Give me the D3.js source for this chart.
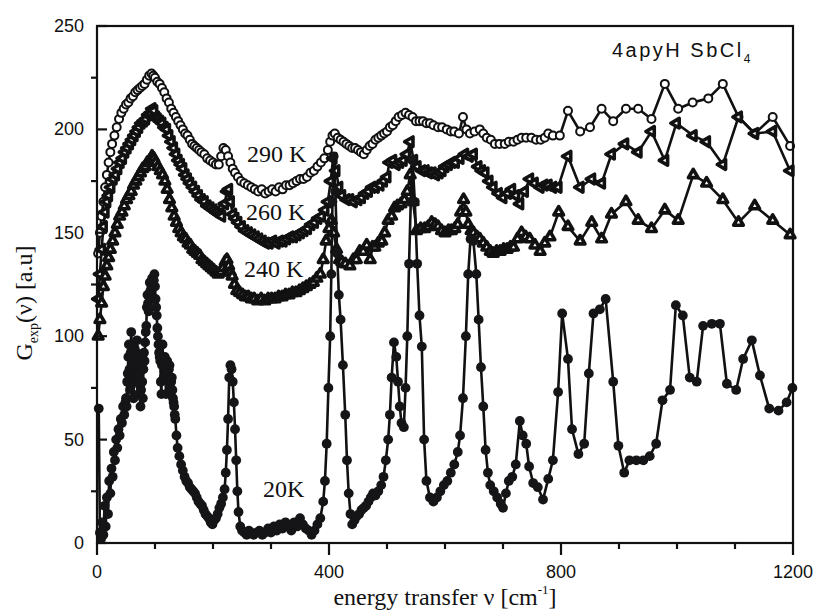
<!DOCTYPE html>
<html>
<head>
<meta charset="utf-8">
<script src="https://cdn.jsdelivr.net/npm/d3@7/dist/d3.min.js"></script>
<style>
  body { margin: 0; background: #fff; }
  .tick-label { font-family: "Liberation Sans", Arial, sans-serif; font-size: 18px; fill: #111; }
  .serif { font-family: "Liberation Serif", "Times New Roman", serif; fill: #111; }
</style>
</head>
<body>
<div class="container"></div>
<script>
// data: [energy transfer, G_exp]

var t20 = [[3,65],[5,5],[7,2],[9,10],[11,4],[13,18],[15,8],[17,22],[19,14],[21,30],[23,24],[25,36],[27,32],[29,44],[31,40],[33,50],[35,46],[37,55],[39,52],[41,60],[43,58],[45,66],[47,62],[49,68],
  [50,70],[51,66],[52,78],[53,82],[54,90],[55,96],[56,84],[57,74],[58,92],[59,102],[60,95],[61,88],[62,78],[63,70],[64,85],[65,94],[66,88],[67,80],[68,92],[69,98],[70,84],[71,72],[72,80],[73,90],[74,76],
  [75,66],[76,74],[77,86],[78,78],[79,70],[80,84],[81,92],[82,88],[83,97],[84,102],[85,105],[86,114],[87,120],[88,116],[89,112],[90,120],[91,126],[92,122],[93,118],[94,124],[95,128],[96,126],[97,124],
  [98,127],[99,130],[100,124],[101,118],[102,114],[103,110],[104,104],[105,100],[106,96],[107,92],[108,90],[109,88],[110,78],[111,72],[112,86],[113,96],[114,88],[115,80],[116,86],[117,90],[118,80],
  [119,72],[120,82],[121,88],[122,82],[123,78],[124,84],[125,86],[126,80],[127,74],[128,78],[129,80],[130,74],[131,70],[132,68],[133,66],[134,62],[135,60],[137,52],[139,46],[142,42],[145,38],[148,35],
  [151,32],[154,30],[157,29],[160,27],[163,26],[166,25],[169,24],[172,22],[175,20],[178,19],[181,18],[184,16],[187,14],[190,13],[193,12],[196,10],[199,9],[202,11],[205,12],[208,14],[211,17],[214,19],[217,22],
  [220,26],[222,34],[224,45],[226,60],[228,80],[230,86],[232,84],[234,78],[236,68],[238,55],[240,40],[242,25],[244,15],[247,8],[250,6],[254,5],[258,4],[262,6],[266,5],[270,4],[275,5],[280,6],[285,4],[290,5],
  [295,7],[300,5],[305,8],[310,6],[315,9],[320,7],[325,10],[330,8],[335,6],[340,10],[345,8],[350,12],[355,9],[360,7],[365,6],[370,4],[375,6],[380,9],[385,12],[390,20],[393,30],[396,48],[399,75],[402,100],
  [404,130],[406,165],[408,187],[411,170],[414,140],[417,120],[420,108],[424,86],[428,62],[431,40],[434,24],[437,14],[440,9],[444,11],[448,13],[452,14],[456,16],[460,17],[464,18],[468,20],[472,22],[476,24],
  [480,23],[485,25],[490,28],[494,32],[498,40],[502,50],[505,62],[508,80],[512,97],[516,90],[519,78],[522,66],[525,58],[529,56],[532,75],[535,100],[538,135],[541,165],[544,185],[548,165],[552,135],[556,110],
  [560,95],[564,50],[568,30],[574,22],[580,20],[586,22],[592,25],[598,28],[604,30],[610,34],[616,38],[622,44],[626,52],[631,70],[636,100],[640,130],[644,147],[649,146],[654,130],[658,108],[662,85],[666,66],
  [670,45],[674,34],[678,28],[684,25],[690,22],[696,19],[700,17],[705,24],[710,30],[716,32],[722,38],[729,59],[734,52],[740,48],[745,37],[752,29],[760,27],[769,21],[778,31],[786,40],[795,73],[802,111],
  [812,89],[819,55],[830,43],[840,48],[848,82],[856,111],[867,113],[877,118],[890,78],[899,47],[909,34],[918,40],[930,40],[942,40],[953,42],[964,48],[975,69],[988,74],[998,115],[1010,110],[1022,80],
  [1034,78],[1045,105],[1060,106],[1074,106],[1086,77],[1102,74],[1114,89],[1129,98],[1143,81],[1159,65],[1175,64],[1189,68],[1199,75]];

var t290 = [[2,140],[5,150],[8,158],[11,165],[14,172],[17,178],[20,184],[23,189],[26,193],[30,197],[34,201],[38,205],[42,208],[46,210],[50,212],[54,213],[58,215],[62,216],[66,218],[70,219],[74,220],[78,221],
  [82,222],[86,224],[90,226],[94,227],[97,226],[100,225],[104,223],[108,222],[112,220],[116,218],[120,215],[124,213],[128,210],[132,208],[136,206],[140,204],[144,202],[148,200],[152,198],[156,197],[160,195],
  [164,193],[168,192],[172,191],[176,190],[180,189],[185,188],[190,186],[195,185],[200,184],[205,183],[210,183],[214,187],[218,191],[222,190],[226,187],[230,184],[234,181],[238,179],[243,177],[248,175],
  [254,174],[260,173],[266,172],[272,171],[278,170],[284,171],[290,169],[296,170],[302,171],[308,170],[314,172],[320,171],[326,173],[332,173],[338,174],[344,175],[350,176],[356,176],[362,177],[368,179],
  [374,180],[380,182],[386,184],[392,186],[398,190],[402,194],[406,197],[410,198],[415,196],[420,195],[425,194],[430,193],[435,192],[440,191],[445,191],[450,190],[455,189],[460,188],[465,190],[470,192],
  [475,193],[480,195],[485,196],[490,197],[495,198],[500,199],[505,201],[510,202],[515,204],[520,206],[526,207],[532,208],[538,207],[544,206],[550,204],[556,204],[562,204],[568,203],[574,203],[580,202],
  [588,201],[595,201],[603,200],[610,199],[616,199],[624,198],[631,206],[637,200],[643,198],[651,199],[660,200],[666,198],[672,196],[679,195],[686,193],[694,193],[703,193],[710,194],[718,194],[725,195],
  [732,196],[740,196],[749,196],[757,195],[765,195],[772,196],[778,198],[786,197],[798,197],[812,209],[833,199],[850,201],[870,210],[890,204],[912,210],[933,210],[956,205],[979,222],[1002,210],[1027,213],
  [1054,215],[1079,222],[1106,206],[1134,198],[1165,206],[1195,192]];

var t260 = [[2,118],[5,130],[8,142],[11,153],[14,160],[17,165],[20,168],[24,172],[28,176],[32,178],[36,181],[40,184],[44,186],[48,189],[52,191],[56,193],[60,195],[64,197],[68,199],[72,201],[76,203],[80,204],
  [84,205],[88,207],[92,208],[95,210],[98,209],[101,206],[104,205],[108,204],[112,203],[116,201],[120,200],[124,197],[128,194],[132,191],[136,188],[140,185],[144,183],[148,181],[152,178],[156,176],[160,174],
  [165,172],[170,170],[175,168],[180,166],[185,165],[190,163],[195,162],[200,161],[205,160],[210,159],[215,158],[220,164],[224,170],[227,171],[230,165],[234,159],[238,157],[243,155],[249,153],[255,151],
  [261,150],[267,149],[273,148],[279,147],[285,146],[291,145],[297,145],[303,146],[309,145],[315,146],[321,146],[327,147],[333,148],[339,148],[345,149],[351,150],[357,151],[363,152],[369,154],[375,155],
  [381,157],[387,158],[393,161],[398,165],[403,175],[407,186],[412,180],[417,172],[422,168],[430,166],[436,166],[442,165],[450,166],[456,167],[462,169],[468,170],[474,172],[480,172],[488,173],[494,175],
  [500,177],[504,184],[510,185],[516,183],[522,184],[528,185],[534,188],[540,194],[546,185],[552,182],[560,180],[566,180],[572,179],[578,179],[584,178],[590,179],[595,180],[600,182],[606,183],[612,184],
  [618,184],[626,186],[634,188],[642,187],[649,188],[657,182],[663,180],[669,179],[676,175],[683,172],[692,169],[700,167],[708,169],[715,171],[722,168],[729,164],[737,170],[746,176],[754,174],[764,172],
  [771,173],[778,173],[786,172],[795,172],[812,187],[833,172],[853,176],[870,174],[887,188],[910,193],[933,189],[956,199],[979,185],[999,203],[1028,197],[1051,194],[1079,183],[1106,206],[1134,198],
  [1165,199],[1195,180]];

var t240 = [[2,100],[5,108],[8,116],[11,124],[14,129],[17,134],[20,138],[23,142],[27,146],[31,150],[35,154],[39,158],[43,160],[47,163],[51,166],[55,168],[59,170],[63,173],[67,175],[71,177],[75,179],[79,181],
  [83,182],[87,184],[91,185],[95,187],[98,186],[101,184],[105,182],[109,180],[113,178],[117,175],[121,171],[125,166],[129,162],[133,158],[137,155],[141,152],[145,150],[149,148],[153,147],[157,145],[161,144],
  [165,142],[169,141],[173,140],[177,139],[181,137],[185,136],[189,135],[193,134],[197,133],[201,132],[205,131],[209,130],[213,131],[217,133],[221,136],[224,137],[227,134],[230,131],[233,129],[237,125],
  [241,122],[246,121],[251,120],[256,119],[261,119],[266,118],[271,118],[277,117],[283,118],[289,117],[295,118],[301,118],[307,118],[313,119],[319,119],[325,120],[331,120],[337,121],[343,121],[349,122],
  [355,123],[361,124],[367,125],[373,126],[379,128],[385,130],[390,137],[395,146],[400,152],[404,156],[408,150],[413,142],[418,137],[422,136],[428,135],[436,134],[442,137],[447,137],[453,141],[459,141],
  [465,144],[471,137],[475,143],[479,143],[485,145],[491,146],[496,150],[502,156],[508,158],[513,162],[518,163],[524,164],[530,166],[535,170],[540,178],[545,165],[551,151],[558,152],[565,152],[571,153],
  [577,155],[583,154],[588,153],[594,151],[600,150],[606,151],[611,151],[617,152],[622,154],[627,160],[632,166],[636,160],[640,154],[645,151],[649,150],[655,148],[660,147],[666,145],[672,143],[678,141],
  [683,140],[689,141],[695,141],[701,142],[707,142],[713,143],[718,143],[725,147],[732,150],[739,148],[746,147],[755,144],[764,141],[772,145],[781,148],[796,160],[812,153],[833,146],[853,155],[870,147],
  [887,159],[912,165],[933,156],[956,152],[979,161],[1002,156],[1028,178],[1051,174],[1079,166],[1106,155],[1134,163],[1165,156],[1195,149]];

var xMajor = [0, 400, 800, 1200];
var xMinor = [100, 200, 300, 500, 600, 700, 900, 1000, 1100];
var yMajor = [0, 50, 100, 150, 200, 250];
var yMinor = [25, 75, 125, 175, 225];

var width = 819;
var height = 615;
var plotLeft = 97, plotTop = 26, plotRight = 793, plotBottom = 543;

var svg = d3.select(".container").append("svg")
    .attr("width", width)
    .attr("height", height);

var x = d3.scaleLinear().domain([0, 1200]).range([plotLeft, plotRight]);
var y = d3.scaleLinear().domain([0, 250]).range([plotBottom, plotTop]);

var line = d3.line()
    .x(function (d) { return x(d[0]); })
    .y(function (d) { return y(d[1]); });

var plot = svg.append("g");

var drawSeries = function(data, marker) {
  var g = plot.append("g");
  g.append("path")
    .datum(data)
    .attr("d", line)
    .attr("fill", "none")
    .attr("stroke", "#111")
    .attr("stroke-width", 2.6)
    .attr("stroke-linejoin", "round");

  if (marker === "circle-open") {
    g.selectAll("circle").data(data)
      .enter().append("circle")
      .attr("cx", function (d) { return x(d[0]); })
      .attr("cy", function (d) { return y(d[1]); })
      .attr("r", 4)
      .attr("fill", "#fff")
      .attr("stroke", "#111")
      .attr("stroke-width", 2);
  } else if (marker === "circle") {
    g.selectAll("circle").data(data)
      .enter().append("circle")
      .attr("cx", function (d) { return x(d[0]); })
      .attr("cy", function (d) { return y(d[1]); })
      .attr("r", 4.9)
      .attr("fill", "#151518");
  } else {
    var rot = marker === "tri-left" ? -90 : 0;
    g.selectAll("path.m").data(data)
      .enter().append("path")
      .attr("class", "m")
      .attr("d", d3.symbol().type(d3.symbolTriangle).size(40))
      .attr("transform", function (d) {
        return "translate(" + x(d[0]) + "," + y(d[1]) + ") rotate(" + rot + ")";
      })
      .attr("fill", "#fff")
      .attr("stroke", "#111")
      .attr("stroke-width", 3.6)
      .attr("stroke-linejoin", "round");
  }
};

drawSeries(t290, "circle-open");
drawSeries(t260, "tri-left");
drawSeries(t240, "tri-up");
drawSeries(t20, "circle");

// frame
svg.append("rect")
  .attr("x", plotLeft).attr("y", plotTop)
  .attr("width", plotRight - plotLeft).attr("height", plotBottom - plotTop)
  .attr("fill", "none")
  .attr("stroke", "#111")
  .attr("stroke-width", 2.2);

// x ticks (outward)
svg.selectAll("line.xmaj").data(xMajor)
  .enter().append("line")
  .attr("x1", function (d) { return x(d); }).attr("x2", function (d) { return x(d); })
  .attr("y1", plotBottom).attr("y2", plotBottom + 12)
  .attr("stroke", "#111").attr("stroke-width", 2.2);
svg.selectAll("line.xmin").data(xMinor)
  .enter().append("line")
  .attr("x1", function (d) { return x(d); }).attr("x2", function (d) { return x(d); })
  .attr("y1", plotBottom).attr("y2", plotBottom + 6)
  .attr("stroke", "#111").attr("stroke-width", 2.2);
svg.selectAll("text.xl").data(xMajor)
  .enter().append("text")
  .attr("class", "tick-label")
  .attr("x", function (d) { return x(d); })
  .attr("y", 578)
  .attr("text-anchor", "middle")
  .text(function (d) { return d; });

// y ticks: major inward, minor outward
svg.selectAll("line.ymaj").data(yMajor)
  .enter().append("line")
  .attr("x1", plotLeft).attr("x2", plotLeft + 10)
  .attr("y1", function (d) { return y(d); }).attr("y2", function (d) { return y(d); })
  .attr("stroke", "#111").attr("stroke-width", 2.2);
svg.selectAll("line.ymin").data(yMinor)
  .enter().append("line")
  .attr("x1", plotLeft - 6).attr("x2", plotLeft)
  .attr("y1", function (d) { return y(d); }).attr("y2", function (d) { return y(d); })
  .attr("stroke", "#111").attr("stroke-width", 2.2);
svg.selectAll("text.yl").data(yMajor)
  .enter().append("text")
  .attr("class", "tick-label")
  .attr("x", 84)
  .attr("y", function (d) { return y(d) + 6; })
  .attr("text-anchor", "end")
  .text(function (d) { return d; });

// axis titles
var xt = svg.append("text")
  .attr("class", "serif")
  .attr("x", 445).attr("y", 605)
  .attr("text-anchor", "middle")
  .attr("font-size", 24);
xt.append("tspan").text("energy transfer ν [cm");
xt.append("tspan").attr("font-size", 13).attr("dy", -11).text("-1");
xt.append("tspan").attr("dy", 11).text("]");

var yt = svg.append("text")
  .attr("class", "serif")
  .attr("transform", "translate(32,303) rotate(-90)")
  .attr("text-anchor", "middle")
  .attr("font-size", 24);
yt.append("tspan").text("G");
yt.append("tspan").attr("font-size", 14).attr("dy", 6).text("exp");
yt.append("tspan").attr("dy", -6).text("(ν)  [a.u]");

// compound name
var title = svg.append("text")
  .attr("x", 612).attr("y", 57)
  .attr("font-family", "Liberation Sans, Arial, sans-serif")
  .attr("font-size", 20)
  .attr("letter-spacing", 2.5)
  .attr("fill", "#111");
title.append("tspan").text("4apyH SbCl");
title.append("tspan").attr("font-size", 12).attr("dy", 6).text("4");

// temperature labels
var tempLabels = [
  { t: "290 K", x: 247, y: 162 },
  { t: "260 K", x: 246, y: 220 },
  { t: "240 K", x: 244, y: 277 },
  { t: "20K", x: 263, y: 497 }
];
svg.selectAll("text.temp").data(tempLabels)
  .enter().append("text")
  .attr("class", "serif")
  .attr("x", function (d) { return d.x; })
  .attr("y", function (d) { return d.y; })
  .attr("font-size", 24)
  .text(function (d) { return d.t; });
</script>
</body>
</html>
